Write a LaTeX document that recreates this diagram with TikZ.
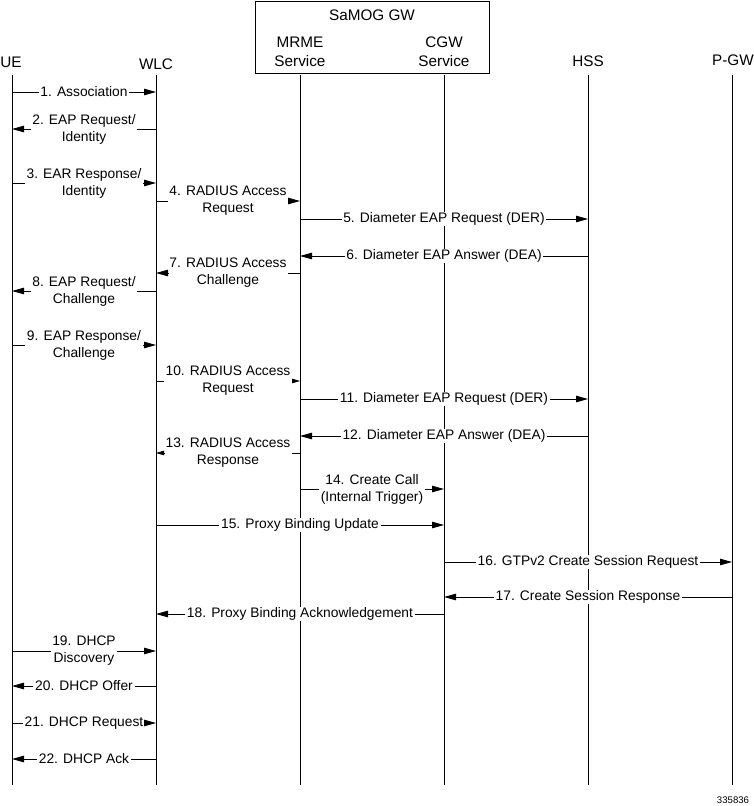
\documentclass[tikz,border=0pt]{standalone}
\usepackage{fontspec}
\setmainfont{Liberation Sans}
\usetikzlibrary{arrows.meta}
\newcommand\seqmsg[6][tip]{%
  \coordinate (#2a) at (#3t |- 0,#5);
  \coordinate (#2b) at (#4t |- 0,#5);
  \path (#2a) -- (#2b) node[lbl,midway] (#2) {#6};
  \draw[msg] (#2a) -- (#2);
  \draw[msg,#1] (#2) -- (#2b);
}
\begin{document}
\begin{tikzpicture}[x=1pt,y=-1pt,
  life/.style={line width=0.8pt},
  msg/.style={line width=0.8pt},
  tip/.style={-{Triangle[length=12pt,width=6.5pt]}},
  smalltip/.style={-{Triangle[length=8pt,width=4.5pt]}},
  lbl/.style={fill=white,inner xsep=1.5pt,inner ysep=0.5pt,align=center,
    font=\fontsize{13.8}{17}\selectfont},
  head/.style={align=center,font=\fontsize{15.3}{19}\selectfont,inner sep=0pt},
]
\useasboundingbox (0,0) rectangle (754,806);
% headers
\node[head] (hUE) at (11,62) {UE};
\node[head] (hWLC) at (156,64) {WLC};
\node[draw,line width=0.8pt,minimum width=234pt,minimum height=72pt,inner sep=0pt] (samog) at (372,37) {};
\node[head] (hSaMOG) at (372,15) {SaMOG GW};
\node[head] (hMRME) at (300,51.5) {MRME\\Service};
\node[head] (hCGW) at (444,51.5) {CGW\\Service};
\node[head] (hHSS) at (588,61) {HSS};
\node[head] (hPGW) at (733,60) {P-GW};
% lifelines
\foreach \n/\x in {UE/12,WLC/156,MRME/300,CGW/444,HSS/588,PGW/732}{
  \coordinate (\n t) at (\x,75);
  \coordinate (\n b) at (\x,785);
}
\foreach \n in {UE,WLC,MRME,CGW,HSS,PGW}{
  \draw[life] (\n t) -- (\n b);
}
% messages
\seqmsg{m1}{UE}{WLC}{92}{1. Association}
\seqmsg{m2}{WLC}{UE}{129}{2. EAP Request/\\Identity}
\seqmsg{m3}{UE}{WLC}{183}{3. EAR Response/\\Identity}
\seqmsg{m4}{WLC}{MRME}{201}{4. RADIUS Access\\Request}
\seqmsg{m5}{MRME}{HSS}{219}{5. Diameter EAP Request (DER)}
\seqmsg{m6}{HSS}{MRME}{256}{6. Diameter EAP Answer (DEA)}
\seqmsg{m7}{MRME}{WLC}{273}{7. RADIUS Access\\Challenge}
\seqmsg{m8}{WLC}{UE}{291}{8. EAP Request/\\Challenge}
\seqmsg{m9}{UE}{WLC}{345}{9. EAP Response/\\Challenge}
\seqmsg[smalltip]{m10}{WLC}{MRME}{381}{10. RADIUS Access\\Request}
\seqmsg{m11}{MRME}{HSS}{399}{11. Diameter EAP Request (DER)}
\seqmsg{m12}{HSS}{MRME}{436}{12. Diameter EAP Answer (DEA)}
\seqmsg[smalltip]{m13}{MRME}{WLC}{453}{13. RADIUS Access\\Response}
\seqmsg{m14}{MRME}{CGW}{489}{14. Create Call\\(Internal Trigger)}
\seqmsg{m15}{WLC}{CGW}{525}{15. Proxy Binding Update}
\seqmsg{m16}{CGW}{PGW}{562}{16. GTPv2 Create Session Request}
\seqmsg{m17}{PGW}{CGW}{597}{17. Create Session Response}
\seqmsg{m18}{CGW}{WLC}{614}{18. Proxy Binding Acknowledgement}
\seqmsg{m19}{UE}{WLC}{651}{19. DHCP\\Discovery}
\seqmsg{m20}{WLC}{UE}{686}{20. DHCP Offer}
\seqmsg{m21}{UE}{WLC}{723}{21. DHCP Request}
\seqmsg{m22}{WLC}{UE}{759}{22. DHCP Ack}
% figure number
\node[font=\fontsize{9.6}{11}\selectfont,inner sep=0pt] (fignum) at (733,800) {335836};
\end{tikzpicture}
\end{document}
